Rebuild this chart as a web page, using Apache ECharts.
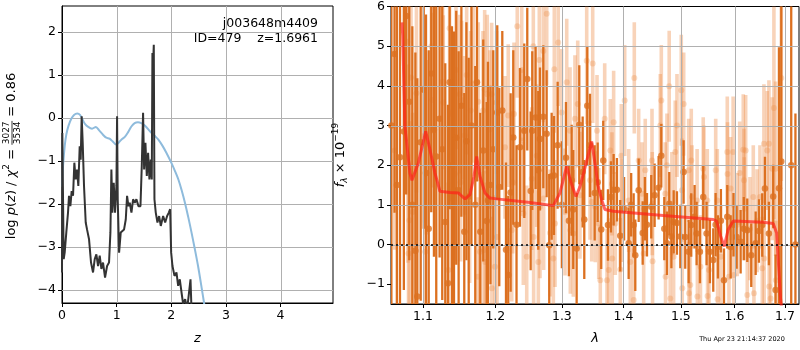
<!DOCTYPE html>
<html>
<head>
<meta charset="utf-8">
<script src="https://cdn.jsdelivr.net/npm/echarts@6/dist/echarts.min.js"></script>
<style>
  html, body { margin: 0; padding: 0; background: #fff; }
  #main { width: 800px; height: 350px; }
</style>
</head>
<body>
<div id="main"></div>
<script>
// left panel: log p(z)
const zTicks = [0, 1, 2, 3, 4];
const logpTicks = [-4, -3, -2, -1, 0, 1, 2];
const zDark = [0, 0.006, 0.018, 0.031, 0.049, 0.079, 0.11, 0.128, 0.153, 0.177, 0.202, 0.226, 0.25, 0.275, 0.299, 0.324, 0.342, 0.36, 0.379, 0.403, 0.434, 0.458, 0.495, 0.531, 0.568, 0.599, 0.629, 0.66, 0.69, 0.721, 0.751, 0.788, 0.825, 0.861, 0.886, 0.904, 0.922, 0.947, 0.971, 0.996, 1.008, 1.02, 1.045, 1.075, 1.106, 1.136, 1.167, 1.191, 1.216, 1.24, 1.271, 1.301, 1.332, 1.362, 1.399, 1.436, 1.46, 1.484, 1.503, 1.527, 1.552, 1.576, 1.6, 1.625, 1.643, 1.655, 1.668, 1.68, 1.692, 1.716, 1.747, 1.778, 1.808, 1.851, 1.888, 1.924, 1.955, 1.979, 1.998, 2.022, 2.059, 2.095, 2.126, 2.156, 2.187, 2.217, 2.254, 2.291, 2.327, 2.352, 2.37, 2.401];
const logpDark = [-3.59, -0.35, -0.39, -3.28, -3.13, -2.66, -2.2, -1.81, -2.05, -1.7, -1.81, -1.04, -1.43, -1.2, -1.58, -0.66, -0.97, 0.04, -0.58, -1.58, -2.43, -2.59, -2.82, -3.36, -3.59, -3.28, -3.17, -3.44, -3.2, -3.51, -3.36, -3.71, -3.44, -3.36, -2.66, -1.2, -2.2, -1.51, -2.2, -1.58, 0.04, -1.89, -3.13, -2.66, -2.66, -2.59, -2.36, -1.81, -2.05, -1.97, -2.2, -1.89, -1.97, -1.89, -2.05, -2.05, -1.12, 0.12, -1.2, -0.58, -1.35, -0.81, -1.43, -0.97, -1.43, 1.51, 1.27, 1.7, -1.89, -2.2, -2.43, -2.28, -2.51, -2.28, -2.43, -2.28, -2.2, -2.12, -3.13, -3.44, -3.67, -3.59, -3.9, -3.75, -4.05, -4.32, -4.21, -4.44, -4.44, -3.75, -4.44, -4.8];
const zBlue = [0, 0.02, 0.05, 0.08, 0.12, 0.17, 0.22, 0.28, 0.33, 0.37, 0.42, 0.48, 0.55, 0.62, 0.68, 0.75, 0.81, 0.87, 0.93, 0.99, 1.04, 1.09, 1.15, 1.21, 1.27, 1.33, 1.39, 1.45, 1.52, 1.61, 1.7, 1.76, 1.84, 1.91, 2.0, 2.07, 2.13, 2.19, 2.25, 2.31, 2.37, 2.43, 2.49, 2.55, 2.6, 2.65];
const logpBlue = [-1.6, -1.1, -0.65, -0.38, -0.18, -0.02, 0.07, 0.1, 0.07, -0.02, -0.14, -0.21, -0.25, -0.21, -0.29, -0.39, -0.46, -0.48, -0.55, -0.62, -0.57, -0.5, -0.44, -0.33, -0.2, -0.12, -0.1, -0.12, -0.18, -0.31, -0.42, -0.5, -0.65, -0.81, -1.04, -1.24, -1.43, -1.68, -1.97, -2.3, -2.66, -3.04, -3.44, -3.9, -4.3, -4.7];

// right panel: spectrum, [lambda, flux, err]
const lamTicks = [1.1, 1.2, 1.3, 1.4, 1.5, 1.6, 1.7];
const fluxTicks = [-1, 0, 1, 2, 3, 4, 5, 6];
const lamMin = 1.0585, lamMax = 1.729;
const specDark = [
  [1.059, 3.0, 5.0], [1.063, 4.8, 4.0], [1.066, 1.5, 5.0], [1.070, 2.2, 4.5], [1.075, 2.85, 4.0],
  [1.078, 5.76, 4.5], [1.082, 3.6, 4.0], [1.086, 1.0, 4.5], [1.090, -0.16, 5.0], [1.0925, -1.31, 5.5],
  [1.097, 2.58, 4.0], [1.101, 3.9, 3.5], [1.104, 1.8, 4.0], [1.1076, 0.4, 4.5], [1.111, 4.31, 3.5],
  [1.1146, 2.89, 3.2], [1.1177, 2.22, 4.0], [1.1222, 3.17, 3.5], [1.1258, 2.4, 3.8], [1.1299, 0.57, 4.0],
  [1.1336, -0.98, 4.5], [1.1359, 4.09, 3.2], [1.139, 2.0, 3.5], [1.1418, 1.37, 4.0], [1.1449, 2.69, 3.2],
  [1.1482, 1.37, 3.5], [1.152, 3.5, 2.8], [1.156, 0.32, 3.5], [1.159, 2.6, 3.0], [1.1622, 1.21, 3.5],
  [1.166, 3.0, 3.0], [1.1714, 1.0, 3.5], [1.1738, 4.09, 2.5], [1.1785, 0.32, 3.0], [1.1827, 2.37, 2.8],
  [1.1876, 0.59, 3.0], [1.1894, 1.11, 3.5], [1.193, 1.5, 2.5], [1.197, 2.4, 2.5],
  [1.2028, 3.33, 2.2], [1.2057, 1.45, 2.5], [1.2101, 3.38, 2.0], [1.2155, -0.13, 2.2], [1.2188, -0.77, 2.0],
  [1.2223, 1.31, 2.5], [1.2262, 2.7, 2.2], [1.231, 0.5, 2.0], [1.2361, 2.45, 2.0], [1.2425, 2.87, 2.2],
  [1.247, 4.17, 1.8], [1.2521, 1.35, 2.0], [1.2545, 2.87, 2.0], [1.2596, 3.2, 1.8], [1.2636, 1.87, 2.0],
  [1.2662, 2.66, 1.8], [1.2713, 3.22, 1.8], [1.2764, 2.79, 1.6], [1.2804, -0.02, 1.8], [1.2841, 1.72, 1.6],
  [1.2877, 1.74, 1.5], [1.2934, 2.5, 1.6], [1.3, 1.0, 1.6], [1.3064, 2.19, 1.4], [1.311, 0.6, 1.4],
  [1.3154, 1.62, 1.4], [1.3179, 0.88, 1.5], [1.3233, -0.1, 1.4], [1.3275, 3.02, 1.5], [1.3329, 1.83, 1.4],
  [1.3355, 0.63, 1.5], [1.3403, 3.5, 1.5], [1.3447, 2.5, 1.3], [1.3523, 1.3, 1.2], [1.3572, 1.57, 1.0],
  [1.363, 0.38, 1.0], [1.3663, 2.12, 1.0],
  [1.3741, 0.49, 0.9], [1.379, 1.2, 0.9], [1.3835, 1.38, 0.9], [1.389, 1.38, 0.8], [1.3945, 0.22, 0.9],
  [1.401, 0.9, 0.8], [1.4087, 0.03, 0.9], [1.413, 1.0, 0.8], [1.4172, 0.49, 0.8], [1.42, -0.27, 0.9],
  [1.4258, 1.37, 0.8], [1.4327, 0.29, 0.8], [1.4365, 0.9, 0.8], [1.4401, 0.5, 0.8], [1.4475, 0.95, 0.8],
  [1.4534, 1.24, 0.8], [1.4604, 1.43, 0.8], [1.4651, 2.24, 0.8], [1.4704, 0.4, 0.8], [1.4751, 0.03, 0.8],
  [1.4792, 1.03, 0.8], [1.483, 0.2, 0.8], [1.4871, 0.57, 0.8], [1.4929, 0.54, 0.8], [1.499, 0.2, 0.8],
  [1.505, 1.83, 0.8], [1.5079, 0.19, 0.8], [1.5141, -0.18, 0.8], [1.5188, 0.49, 0.8], [1.525, 0.7, 0.8],
  [1.5287, 0.28, 0.8], [1.5348, -0.18, 0.8], [1.5409, 1.2, 0.8], [1.5471, 0.28, 0.8], [1.5533, -0.18, 0.8],
  [1.5596, -0.39, 0.8], [1.564, 0.5, 0.8], [1.5684, -0.06, 0.8], [1.574, 0.6, 0.8], [1.5798, -0.9, 0.8],
  [1.5861, 0.7, 0.8], [1.5926, -0.06, 0.8], [1.598, 0.5, 0.8], [1.6041, 0.19, 0.8], [1.6118, 0.07, 0.8],
  [1.618, 0.4, 0.8], [1.6247, 0.36, 0.8], [1.6325, -0.27, 0.8], [1.6412, 0.03, 0.8], [1.6476, 0.34, 0.8],
  [1.6542, 0.49, 0.8], [1.6596, 1.41, 0.8], [1.6675, 0.28, 0.8], [1.6762, 1.21, 0.8], [1.681, -1.15, 0.9],
  [1.6878, 1.42, 3.55], [1.6925, 2.09, 4.0], [1.7129, 2.0, 8.0], [1.7216, 0.0, 3.3]
];
const specLight = [
  [1.0632, 2.37, 2.5], [1.0795, 5.11, 2.5], [1.0804, 2.04, 2.5], [1.081, -0.23, 2.5], [1.0822, 0.61, 2.5],
  [1.0843, 4.21, 2.5], [1.0865, 0.82, 2.5], [1.0914, 3.81, 2.5], [1.1023, 2.75, 2.2], [1.103, -0.18, 2.5],
  [1.1044, 2.45, 2.2], [1.1111, 5.0, 2.2], [1.1124, 3.64, 2.2], [1.1264, 4.1, 2.2], [1.1272, 3.58, 2.2],
  [1.134, -0.64, 2.2], [1.1358, 5.45, 2.2], [1.1381, 3.29, 2.2], [1.139, 1.2, 2.2], [1.1428, 1.78, 2.2],
  [1.1446, 4.4, 2.0], [1.1497, 3.79, 2.0], [1.151, 1.57, 2.0], [1.1524, 3.64, 2.0], [1.1566, 2.75, 2.0],
  [1.1593, 4.27, 2.0], [1.1635, 1.03, 2.0], [1.1649, 3.38, 2.0], [1.1686, 4.06, 2.0], [1.1752, -0.81, 2.0],
  [1.1756, 3.6, 2.0], [1.178, -0.18, 2.0], [1.1823, 3.38, 2.0], [1.1837, -0.14, 2.0], [1.1847, 3.91, 2.0],
  [1.1856, -0.44, 2.0], [1.1884, 3.79, 2.0], [1.1923, 2.9, 2.0],
  [1.1947, 3.79, 1.8], [1.195, -1.1, 1.8], [1.1994, -0.56, 1.8], [1.2019, 3.58, 1.8], [1.2025, 0.19, 1.8],
  [1.214, 2.45, 1.8], [1.2188, 3.25, 1.8], [1.2239, 0.36, 1.8], [1.2253, 1.57, 1.8], [1.2273, 3.29, 1.8],
  [1.2321, 5.5, 1.8], [1.2387, 4.4, 1.8], [1.2392, 2.62, 1.8], [1.2411, 0.78, 1.8], [1.2462, -0.31, 1.8],
  [1.2537, 1.66, 1.8], [1.2561, 5.0, 1.8], [1.2566, 0.19, 1.8], [1.2612, 2.24, 1.8], [1.2637, -0.44, 1.8],
  [1.2652, 4.65, 1.8], [1.2662, 0.95, 1.8], [1.2713, 4.88, 1.8], [1.2718, 1.16, 1.8], [1.2765, 5.82, 1.8],
  [1.2816, 0.29, 1.6], [1.2867, -0.35, 1.6], [1.2882, 4.42, 1.6], [1.2893, 0.53, 1.6], [1.2943, 5.09, 1.6],
  [1.2995, 3.33, 1.6], [1.3049, 0.82, 1.6], [1.3076, 4.09, 1.6], [1.3128, 2.87, 1.6], [1.3133, 0.36, 1.6],
  [1.318, 0.28, 1.6], [1.3206, 3.17, 1.6], [1.325, 3.54, 1.6], [1.3286, 1.24, 1.6], [1.3394, 4.63, 1.6],
  [1.3447, 1.62, 1.5], [1.3475, 1.07, 1.5], [1.3491, 4.56, 1.5],
  [1.3533, 0.95, 1.4], [1.3561, 2.87, 1.4], [1.3589, 0.53, 1.4], [1.3615, -0.9, 1.4], [1.3687, 3.17, 1.4],
  [1.3725, -0.9, 1.3], [1.3753, -0.64, 1.3], [1.3779, 2.37, 1.3], [1.3807, 1.53, 1.3], [1.3812, -0.35, 1.3],
  [1.3835, 3.08, 1.3], [1.3862, 0.53, 1.3], [1.3946, -0.63, 1.3], [1.3963, 2.24, 1.3], [1.3975, 0.86, 1.3],
  [1.402, 3.63, 1.4], [1.4088, 1.11, 1.3], [1.4115, -0.44, 1.3], [1.4173, -1.4, 1.3], [1.4183, 4.2, 1.4],
  [1.4258, 2.12, 1.3], [1.4315, 1.28, 1.3], [1.4344, -0.23, 1.3], [1.4371, 1.87, 1.3], [1.4488, 2.12, 1.3],
  [1.4493, 1.03, 1.3], [1.4498, -0.42, 1.3], [1.4633, 3.0, 1.3], [1.4651, 3.63, 1.4], [1.4721, 1.28, 1.3],
  [1.4726, -0.81, 1.3], [1.4751, 2.0, 1.3], [1.4791, 3.99, 1.4], [1.4809, -1.36, 1.3], [1.4839, 1.03, 1.3],
  [1.487, -0.31, 1.3], [1.4899, 2.33, 1.3], [1.493, 3.0, 1.3], [1.5007, 3.89, 1.4], [1.502, 1.37, 1.3],
  [1.5025, -1.1, 1.3], [1.5051, 3.54, 1.3], [1.5142, 1.87, 1.3], [1.5147, -1.23, 1.3], [1.5171, -1.02, 1.3],
  [1.5189, 2.12, 1.3], [1.5202, 1.2, 1.3],
  [1.5296, 1.11, 1.3], [1.5301, -1.31, 1.3], [1.5358, -0.56, 1.3], [1.5409, 1.91, 1.3], [1.5422, 1.7, 1.3],
  [1.5484, 1.11, 1.3], [1.5489, -1.3, 1.3], [1.5516, -0.64, 1.3], [1.5642, 1.87, 1.3], [1.5672, 1.11, 1.3],
  [1.5677, -1.38, 1.3], [1.5736, -0.31, 1.3], [1.5861, 2.33, 1.4], [1.5866, 1.78, 1.3], [1.5893, -0.81, 1.3],
  [1.5924, 1.41, 1.3], [1.5973, 2.33, 1.4], [1.5986, -0.77, 1.3], [1.605, 0.5, 1.3], [1.61, 1.8, 1.3],
  [1.6169, 2.39, 1.4], [1.6183, 1.62, 1.3], [1.6188, 0.9, 1.3], [1.6216, 2.37, 1.4], [1.6247, -1.27, 1.3],
  [1.63, 0.4, 1.3], [1.6365, 1.2, 1.3], [1.6378, -1.23, 1.3], [1.644, 0.6, 1.3], [1.6497, 1.2, 1.3],
  [1.6543, -0.6, 1.3], [1.6576, 2.54, 1.5], [1.6581, -0.35, 1.3], [1.6642, 2.37, 1.5], [1.6676, 2.54, 1.6],
  [1.6681, -1.06, 1.4], [1.671, -1.36, 1.4], [1.6742, 1.91, 1.8], [1.6776, 3.44, 2.8], [1.681, 1.91, 2.2],
  [1.6815, -0.9, 1.5], [1.6925, 4.2, 2.6]
];
const modelLam = [1.0725, 1.0735, 1.0764, 1.0829, 1.0855, 1.0938, 1.1036, 1.1093, 1.116, 1.1227, 1.1363, 1.1477, 1.157, 1.164, 1.1696, 1.1734, 1.178, 1.1852, 1.1923, 1.2019, 1.251, 1.2866, 1.297, 1.3075, 1.3154, 1.3222, 1.3286, 1.3366, 1.3474, 1.3528, 1.3581, 1.3637, 1.3691, 1.3829, 1.4686, 1.5595, 1.5659, 1.5735, 1.5803, 1.5879, 1.5975, 1.6562, 1.6762, 1.6831, 1.6863, 1.6912, 1.6932, 1.695];
const modelFlux = [5.6, 5.28, 2.97, 1.8, 1.62, 2.05, 2.85, 2.39, 1.8, 1.34, 1.31, 1.3, 1.15, 1.26, 1.72, 2.22, 1.72, 1.3, 1.17, 1.15, 1.06, 0.98, 1.3, 1.97, 1.51, 1.21, 1.46, 1.93, 2.6, 2.05, 1.46, 1.13, 0.88, 0.84, 0.73, 0.63, 0.59, 0.21, -0.05, 0.38, 0.59, 0.56, 0.53, 0.29, -0.38, -1.38, -1.6, -2.5];

const FONT = '"DejaVu Sans", sans-serif';
const darkOrange = '#dc7020';
const lightOrange = 'rgba(236,140,70,0.38)';
const gridGrey = '#b0b0b0';
const minus = v => String(v).replace('-', '\u2212');
const lg = Math.log10;

const measure = document.createElement('canvas').getContext('2d');
function textWidth(str, size, italic) {
  measure.font = (italic ? 'italic ' : '') + size + 'px "DejaVu Sans"';
  return measure.measureText(str).width;
}
// rotated axis title made of pieces (sub/superscripts, fraction)
function rotatedLabel(parts, x, y) {
  let total = 0;
  parts.forEach(p => {
    p.w = p.frac ? Math.max(textWidth(p.frac[0], p.size), textWidth(p.frac[1], p.size)) + 1
                 : textWidth(p.text, p.size, p.italic);
    total += p.w;
  });
  let cx = -total / 2;
  const children = [];
  parts.forEach(p => {
    const base = { fill: '#000', fontFamily: FONT, fontSize: p.size };
    if (p.frac) {
      children.push({ type: 'text', x: cx + p.w / 2, y: -5, style: Object.assign({ text: p.frac[0], align: 'center', verticalAlign: 'middle', textAlign: 'center', textVerticalAlign: 'middle' }, base) });
      children.push({ type: 'text', x: cx + p.w / 2, y: 5.5, style: Object.assign({ text: p.frac[1], align: 'center', verticalAlign: 'middle', textAlign: 'center', textVerticalAlign: 'middle' }, base) });
      children.push({ type: 'line', shape: { x1: cx, y1: 0, x2: cx + p.w, y2: 0 }, style: { stroke: '#000', lineWidth: 0.8 } });
    } else {
      children.push({ type: 'text', x: cx, y: p.dy || 0, style: Object.assign({ text: p.text, fontStyle: p.italic ? 'italic' : 'normal', align: 'left', verticalAlign: 'middle', textAlign: 'left', textVerticalAlign: 'middle' }, base) });
    }
    cx += p.w;
  });
  return { type: 'group', x: x, y: y, rotation: Math.PI / 2, children: children };
}

// grid lines at the tick values: kind 0 = vertical (x value), 1 = horizontal (y value)
function gridLines(axisIdx, xs, ys, z) {
  return {
    type: 'custom', xAxisIndex: axisIdx, yAxisIndex: axisIdx, z: z, silent: true,
    data: xs.map(v => [0, v]).concat(ys.map(v => [1, v])),
    encode: { x: -1, y: -1 },
    renderItem: (params, api) => {
      const cs = params.coordSys;
      const v = api.value(1);
      const p = api.coord([v, v]);
      let shape;
      if (api.value(0) === 0) {
        const x = Math.round(p[0]) + 0.5;
        shape = { x1: x, y1: cs.y, x2: x, y2: cs.y + cs.height };
      } else {
        const y = Math.round(p[1]) + 0.5;
        shape = { x1: cs.x, y1: y, x2: cs.x + cs.width, y2: y };
      }
      return { type: 'line', shape: shape, style: { stroke: gridGrey, lineWidth: 1 } };
    }
  };
}

const chart = echarts.init(document.getElementById('main'));

const axisCommon = {
  axisLine: { show: true, onZero: false, lineStyle: { color: '#000', width: 1 } },
  axisTick: { show: true, length: 4, lineStyle: { color: '#000' } },
  axisLabel: { color: '#000', fontFamily: FONT, fontSize: 12.5, margin: 6 },
  splitLine: { show: false }
};
function axis(extra) {
  const a = JSON.parse(JSON.stringify(axisCommon));
  Object.keys(extra).forEach(k => {
    if (typeof extra[k] === 'object' && a[k]) Object.assign(a[k], extra[k]);
    else a[k] = extra[k];
  });
  return a;
}

const option = {
  animation: false,
  backgroundColor: '#fff',
  grid: [
    { left: 62, top: 6, width: 271, height: 298, show: true, borderColor: '#000', borderWidth: 1, backgroundColor: 'transparent' },
    { left: 391, top: 6, width: 408, height: 298, show: true, borderColor: '#000', borderWidth: 1, backgroundColor: 'transparent' }
  ],
  xAxis: [
    axis({ gridIndex: 0, type: 'value', min: 0, max: 4.96,
      axisTick: { customValues: zTicks }, axisLabel: { customValues: zTicks, formatter: v => minus(v) },
      name: 'z', nameLocation: 'middle', nameGap: 29,
      nameTextStyle: { fontFamily: FONT, fontSize: 13, fontStyle: 'italic', color: '#000' } }),
    axis({ gridIndex: 1, type: 'value', min: lg(lamMin), max: lg(lamMax),
      axisTick: { customValues: lamTicks.map(lg) },
      axisLabel: { customValues: lamTicks.map(lg), formatter: v => Math.pow(10, v).toFixed(1) },
      name: 'λ', nameLocation: 'middle', nameGap: 28,
      nameTextStyle: { fontFamily: FONT, fontSize: 13, fontStyle: 'italic', color: '#000' } })
  ],
  yAxis: [
    axis({ gridIndex: 0, type: 'value', min: -4.3, max: 2.6,
      axisTick: { customValues: logpTicks }, axisLabel: { customValues: logpTicks, formatter: v => minus(v) } }),
    axis({ gridIndex: 1, type: 'value', min: -1.5, max: 6,
      axisTick: { customValues: fluxTicks }, axisLabel: { customValues: fluxTicks, formatter: v => minus(v) } })
  ],
  series: [
    gridLines(0, zTicks.slice(1), logpTicks, 1),
    { type: 'line', xAxisIndex: 0, yAxisIndex: 0, data: zBlue.map((z, i) => [z, logpBlue[i]]),
      showSymbol: false, smooth: 0.3, clip: true, lineStyle: { color: '#8ebbdc', width: 2 }, z: 2 },
    { type: 'line', xAxisIndex: 0, yAxisIndex: 0, data: zDark.map((z, i) => [z, logpDark[i]]),
      showSymbol: false, clip: true, lineStyle: { color: '#333333', width: 2 }, z: 3 },
    { type: 'custom', xAxisIndex: 1, yAxisIndex: 1, clip: true, z: 2,
      data: specLight.map(d => [lg(d[0]), d[1] - d[2], d[1] + d[2]]),
      renderItem: (params, api) => {
        const lo = api.coord([api.value(0), api.value(1)]);
        const hi = api.coord([api.value(0), api.value(2)]);
        return { type: 'rect', shape: { x: lo[0] - 1.8, y: hi[1], width: 3.6, height: lo[1] - hi[1] }, style: { fill: lightOrange } };
      } },
    { type: 'scatter', xAxisIndex: 1, yAxisIndex: 1, clip: true, z: 2, symbolSize: 6,
      data: specLight.map(d => [lg(d[0]), d[1]]), itemStyle: { color: lightOrange } },
    { type: 'custom', xAxisIndex: 1, yAxisIndex: 1, clip: true, z: 3,
      data: specDark.map(d => [lg(d[0]), d[1] - d[2], d[1] + d[2]]),
      renderItem: (params, api) => {
        const lo = api.coord([api.value(0), api.value(1)]);
        const hi = api.coord([api.value(0), api.value(2)]);
        return { type: 'rect', shape: { x: lo[0] - 1.15, y: hi[1], width: 2.3, height: lo[1] - hi[1] }, style: { fill: darkOrange } };
      } },
    { type: 'scatter', xAxisIndex: 1, yAxisIndex: 1, clip: true, z: 3, symbolSize: 6.5,
      data: specDark.map(d => [lg(d[0]), d[1]]), itemStyle: { color: darkOrange } },
    gridLines(1, lamTicks.map(lg), fluxTicks.slice(1, -1), 4),
    { type: 'line', xAxisIndex: 1, yAxisIndex: 1, clip: true, z: 5, showSymbol: false,
      data: modelLam.map((l, i) => [lg(l), modelFlux[i]]),
      lineStyle: { color: 'rgba(255,30,25,0.68)', width: 3 } },
    { type: 'line', xAxisIndex: 1, yAxisIndex: 1, data: [], z: 6,
      markLine: { silent: true, symbol: ['none', 'none'], label: { show: false }, z: 6,
        lineStyle: { color: '#000', type: [2, 3], width: 1.6, opacity: 1 },
        data: [{ yAxis: 0 }] } }
  ],
  graphic: [
    { type: 'text', x: 318, y: 23.5, style: { text: 'j003648m4409', fontFamily: FONT, fontSize: 12.5, fill: '#000', align: 'right', verticalAlign: 'middle', textAlign: 'right', textVerticalAlign: 'middle' } },
    { type: 'text', x: 318, y: 38.5, style: { text: 'ID=479    z=1.6961', fontFamily: FONT, fontSize: 12.5, fill: '#000', align: 'right', verticalAlign: 'middle', textAlign: 'right', textVerticalAlign: 'middle' } },
    rotatedLabel([
      { text: 'log ', size: 13 }, { text: 'p', size: 13, italic: true }, { text: '(', size: 13 },
      { text: 'z', size: 13, italic: true }, { text: ') / ', size: 13 }, { text: 'χ', size: 13, italic: true },
      { text: '2', size: 9, dy: -5 }, { text: ' = ', size: 13 }, { frac: ['3027', '3534'], size: 9 },
      { text: ' = 0.86', size: 13 }
    ], 12, 156),
    rotatedLabel([
      { text: 'f', size: 13, italic: true }, { text: 'λ', size: 9, italic: true, dy: 4 },
      { text: ' × 10', size: 13 }, { text: '\u221219', size: 9, dy: -5 }
    ], 341, 155),
    { type: 'text', x: 742, y: 339, style: { text: 'Thu Apr 23 21:14:37 2020', fontFamily: FONT, fontSize: 6.5, fill: '#000', align: 'center', verticalAlign: 'middle', textAlign: 'center', textVerticalAlign: 'middle' } }
  ]
};

chart.setOption(option);
</script>
</body>
</html>
